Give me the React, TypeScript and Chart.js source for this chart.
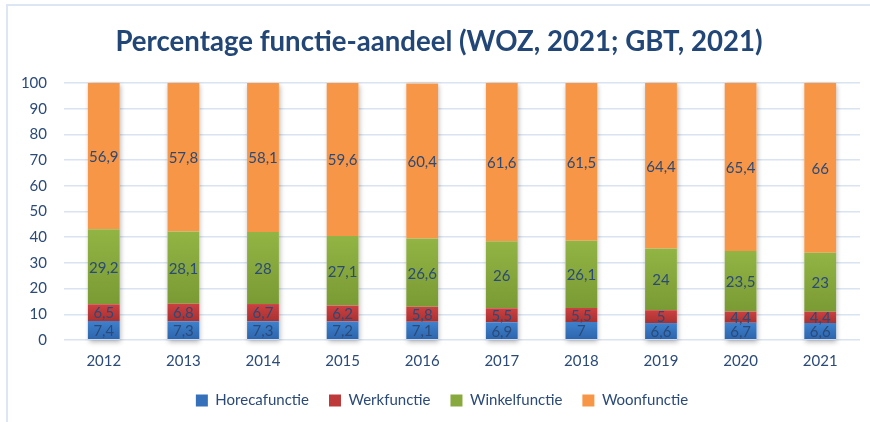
import React, { useEffect, useRef } from 'react';
import { Chart, registerables } from 'chart.js';

Chart.register(...registerables);

const years = ['2012', '2013', '2014', '2015', '2016', '2017', '2018', '2019', '2020', '2021'];
const horeca = [7.4, 7.3, 7.3, 7.2, 7.1, 6.9, 7, 6.6, 6.7, 6.6];
const werk = [6.5, 6.8, 6.7, 6.2, 5.8, 5.5, 5.5, 5, 4.4, 4.4];
const winkel = [29.2, 28.1, 28, 27.1, 26.6, 26, 26.1, 24, 23.5, 23];
const woon = [56.9, 57.8, 58.1, 59.6, 60.4, 61.6, 61.5, 64.4, 65.4, 66];
const seriesNames = ['Horecafunctie', 'Werkfunctie', 'Winkelfunctie', 'Woonfunctie'];
const yMin = 0;
const yMax = 100;
const yStep = 10;

const allSeries = [horeca, werk, winkel, woon];
const colorsTop = ['#3F80CC', '#CC4040', '#92B444', '#F79646'];
const colorsBottom = ['#2C64AC', '#A93131', '#7A9A34', '#F79646'];
const colorsLegend = ['#3570BA', '#BE3A3A', '#88A93D', '#F79646'];

const TEXT = '#2B4A78';
const TITLE = '#224777';
const GRID = '#D9E3F1';
const FONT = 'Lato, "Open Sans", sans-serif';

function gradientFor(dsIndex: number) {
  return (ctx: any) => {
    const chart = ctx.chart;
    const y = chart.scales && chart.scales.y;
    if (!y || ctx.type !== 'data') return colorsLegend[dsIndex];
    const i = ctx.dataIndex;
    let start = 0;
    for (let d = 0; d < dsIndex; d++) start += allSeries[d][i];
    const end = start + allSeries[dsIndex][i];
    const p0 = y.getPixelForValue(end);
    const p1 = y.getPixelForValue(start);
    if (!isFinite(p0) || !isFinite(p1) || p0 === p1) return colorsLegend[dsIndex];
    const g = chart.ctx.createLinearGradient(0, p0, 0, p1);
    g.addColorStop(0, colorsTop[dsIndex]);
    g.addColorStop(1, colorsBottom[dsIndex]);
    return g;
  };
}

const shiftPlugin = {
  id: 'shiftBlocks',
  afterLayout(chart: any) {
    const t = chart.titleBlock;
    if (t) { t.left += 9; t.right += 9; }
    const l = chart.legend;
    if (l) { l.left += 12; l.right += 12; }
  },
};

const shadowPlugin = {
  id: 'stackShadow',
  beforeDatasetsDraw(chart: any) {
    const ctx = chart.ctx;
    const metas = chart.data.datasets.map((_: any, di: number) => chart.getDatasetMeta(di));
    const base = chart.scales.y.getPixelForValue(0);
    ctx.save();
    ctx.beginPath();
    ctx.rect(chart.chartArea.left, chart.chartArea.top - 2, chart.chartArea.right - chart.chartArea.left, chart.chartArea.bottom - chart.chartArea.top + 12);
    ctx.clip();
    ctx.shadowColor = 'rgba(0,0,0,0.30)';
    ctx.shadowBlur = 5;
    ctx.shadowOffsetX = 1;
    ctx.shadowOffsetY = 2;
    ctx.fillStyle = '#ffffff';
    years.forEach((_, i) => {
      let top = base;
      let x = 0;
      let w = 0;
      metas.forEach((m: any) => {
        const el = m.data[i];
        if (!el) return;
        top = Math.min(top, el.y);
        x = el.x;
        w = el.width;
      });
      ctx.fillRect(x - w / 2, top, w, base - top);
    });
    ctx.restore();
  },
};

const labelPlugin = {
  id: 'segLabels',
  afterDatasetsDraw(chart: any) {
    const ctx = chart.ctx;
    ctx.save();
    ctx.font = `15px ${FONT}`;
    ctx.fillStyle = TEXT;
    ctx.textAlign = 'center';
    ctx.textBaseline = 'middle';
    chart.data.datasets.forEach((ds: any, di: number) => {
      const meta = chart.getDatasetMeta(di);
      meta.data.forEach((el: any, i: number) => {
        const v = ds.data[i];
        const yc = (el.y + el.base) / 2;
        ctx.fillText(String(v).replace('.', ','), el.x, yc + 1);
      });
    });
    ctx.restore();
  },
};

export default function App() {
  const ref = useRef<HTMLCanvasElement | null>(null);

  useEffect(() => {
    if (!ref.current) return;
    const chart = new Chart(ref.current, {
      type: 'bar',
      data: {
        labels: years,
        datasets: allSeries.map((s, di) => ({
          label: seriesNames[di],
          data: s,
          backgroundColor: gradientFor(di),
          borderWidth: 0,
          barPercentage: 0.4,
          categoryPercentage: 1,
        })),
      },
      options: {
        responsive: false,
        animation: false,
        devicePixelRatio: 1,
        layout: { padding: { left: 0, right: 10, top: 0, bottom: 4 } },
        scales: {
          x: {
            stacked: true,
            grid: { display: false, drawTicks: false },
            border: { display: false },
            ticks: { color: TEXT, font: { family: FONT, size: 15 }, padding: 12 },
            afterFit: (s: any) => { s.height = 33; },
          },
          y: {
            stacked: true,
            min: yMin,
            max: yMax,
            grid: { color: GRID, lineWidth: 1.5, drawTicks: false },
            border: { display: false },
            ticks: { stepSize: yStep, color: TEXT, font: { family: FONT, size: 15 }, padding: 17 },
            afterFit: (s: any) => { s.width = 64; },
          },
        },
        plugins: {
          title: {
            display: true,
            text: 'Percentage functie-aandeel (WOZ, 2021; GBT, 2021)',
            color: TITLE,
            font: { family: FONT, size: 27.6, weight: 'bold' },
            padding: { top: 26, bottom: 24 },
          },
          legend: {
            position: 'bottom',
            labels: {
              color: TEXT,
              font: { family: FONT, size: 15 },
              boxWidth: 12,
              boxHeight: 12,
              padding: 20,
              generateLabels: (chart: any) =>
                chart.data.datasets.map((ds: any, di: number) => ({
                  text: ds.label,
                  fillStyle: colorsLegend[di],
                  strokeStyle: colorsLegend[di],
                  lineWidth: 0,
                  hidden: false,
                  datasetIndex: di,
                  fontColor: TEXT,
                })),
            },
          },
          tooltip: { enabled: false },
        },
      },
      plugins: [shiftPlugin, shadowPlugin, labelPlugin],
    } as any);
    return () => chart.destroy();
  }, []);

  return (
    <div style={{ position: 'fixed', left: 0, top: 0, width: 870, height: 422, overflow: 'hidden', background: '#fff' }}>
      <div
        style={{
          position: 'absolute',
          left: 6,
          top: 4,
          width: 2000,
          height: 2000,
          borderLeft: '2px solid #DDE7F3',
          borderTop: '2px solid #DDE7F3',
        }}
      />
      <canvas
        ref={ref}
        width={870}
        height={422}
        style={{ position: 'absolute', left: 0, top: 0, width: 870, height: 422 }}
      />
    </div>
  );
}
